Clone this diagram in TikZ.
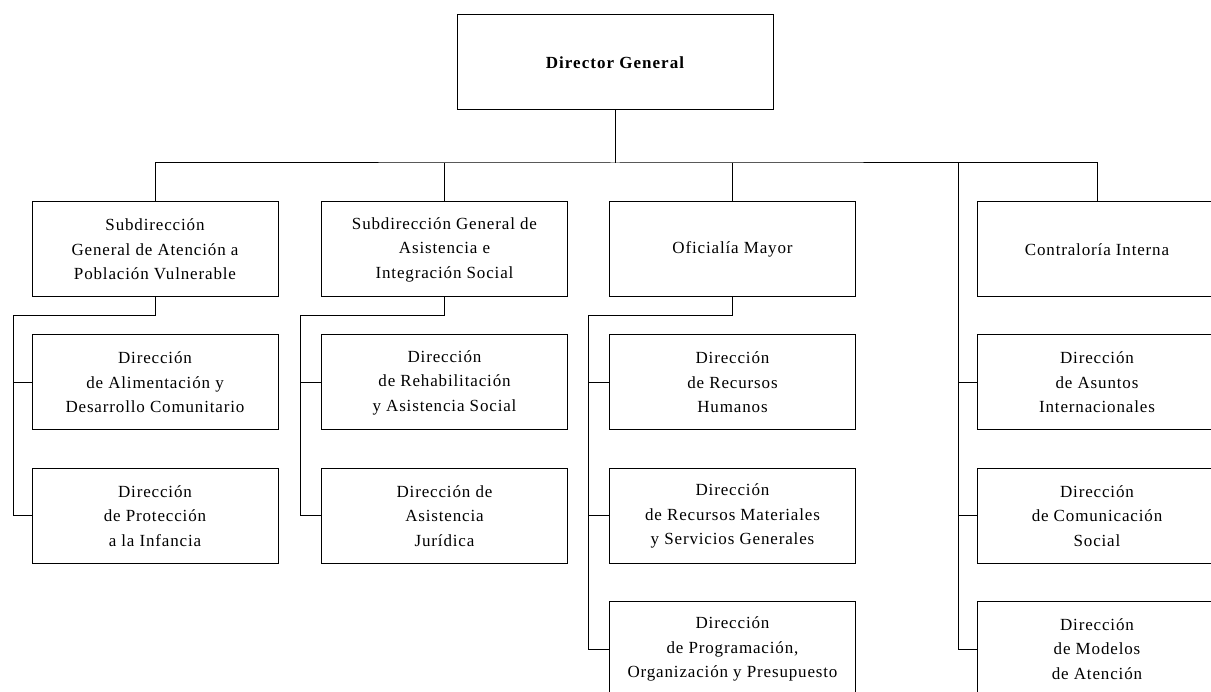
\documentclass[tikz,border=0pt]{standalone}
\usepackage{fontspec}
\setmainfont{Liberation Serif}
\usepackage{tikz}

\tikzset{
  unit/.style={rectangle, draw, line width=1pt, minimum height=95pt, align=center,
    font=\fontsize{17}{24.5}\selectfont\addfontfeature{LetterSpace=5}},
  unitw/.style={unit, minimum width=246pt},
  link/.style={line width=1pt}
}

\begin{document}
\begin{tikzpicture}[x=1pt, y=-1pt]
\useasboundingbox (0,0) rectangle (1211,692);
\clip (0,0) rectangle (1211,692);
% top
\node [unit, minimum width=316pt, font=\fontsize{17}{24}\selectfont\bfseries\addfontfeature{LetterSpace=6}] (dg) at (615,62.5) {Director General};
% subdirecciones
\node [unitw] (s1) at (155,249.5) {Subdirección\\General de Atención a\\Población Vulnerable};
\node [unitw] (s2) at (444.5,249.5) {Subdirección General de\\Asistencia e\\Integración Social};
\node [unitw] (s3) at (732.5,249.5) {Oficialía Mayor};
\node [unit, minimum width=240pt] (s4) at (1097,249.5) {Contraloría Interna};
% direcciones
\node [unitw] (a1) at (155,382.5) {Dirección\\de Alimentación y\\Desarrollo Comunitario};
\node [unitw] (a2) at (155,516) {Dirección\\de Protección\\a la Infancia};
\node [unitw] (b1) at (444.5,382.5) {Dirección\\de Rehabilitación\\y Asistencia Social};
\node [unitw] (b2) at (444.5,516) {Dirección de\\Asistencia\\Jurídica};
\node [unitw] (c1) at (732.5,382.5) {Dirección\\de Recursos\\Humanos};
\node [unitw] (c2) at (732.5,516) {Dirección\\de Recursos Materiales\\y Servicios Generales};
\node [unitw] (c3) at (732.5,649) {Dirección\\de Programación,\\Organización y Presupuesto};
\node [unit, minimum width=240pt] (d1) at (1097,382.5) {Dirección\\de Asuntos\\Internacionales};
\node [unit, minimum width=240pt] (d2) at (1097,516) {Dirección\\de Comunicación\\Social};
\node [unit, minimum width=240pt] (d3) at (1097,649) {Dirección\\de Modelos\\de Atención};

\coordinate (bus) at (615,163);
\coordinate (k1) at (13,316);
\coordinate (k2) at (300,316);
\coordinate (k3) at (588,316);
\coordinate (k4) at (958,163);

\draw [link] (dg.south) -- (bus);
\draw [link] (s1.north) |- (bus) -| (s4.north);
\draw [link] (s2.north) -- (s2.north |- bus);
\draw [link] (s3.north) -- (s3.north |- bus);

\draw [link] (s1.south) |- (k1) |- (a2.west);
\draw [link] (a1.west) -- (a1.west -| k1);
\draw [link] (s2.south) |- (k2) |- (b2.west);
\draw [link] (b1.west) -- (b1.west -| k2);
\draw [link] (s3.south) |- (k3) |- (c3.west);
\draw [link] (c1.west) -- (c1.west -| k3);
\draw [link] (c2.west) -- (c2.west -| k3);
\draw [link] (k4) |- (d3.west);
\draw [link] (d1.west) -- (d1.west -| k4);
\draw [link] (d2.west) -- (d2.west -| k4);
\end{tikzpicture}
\end{document}
